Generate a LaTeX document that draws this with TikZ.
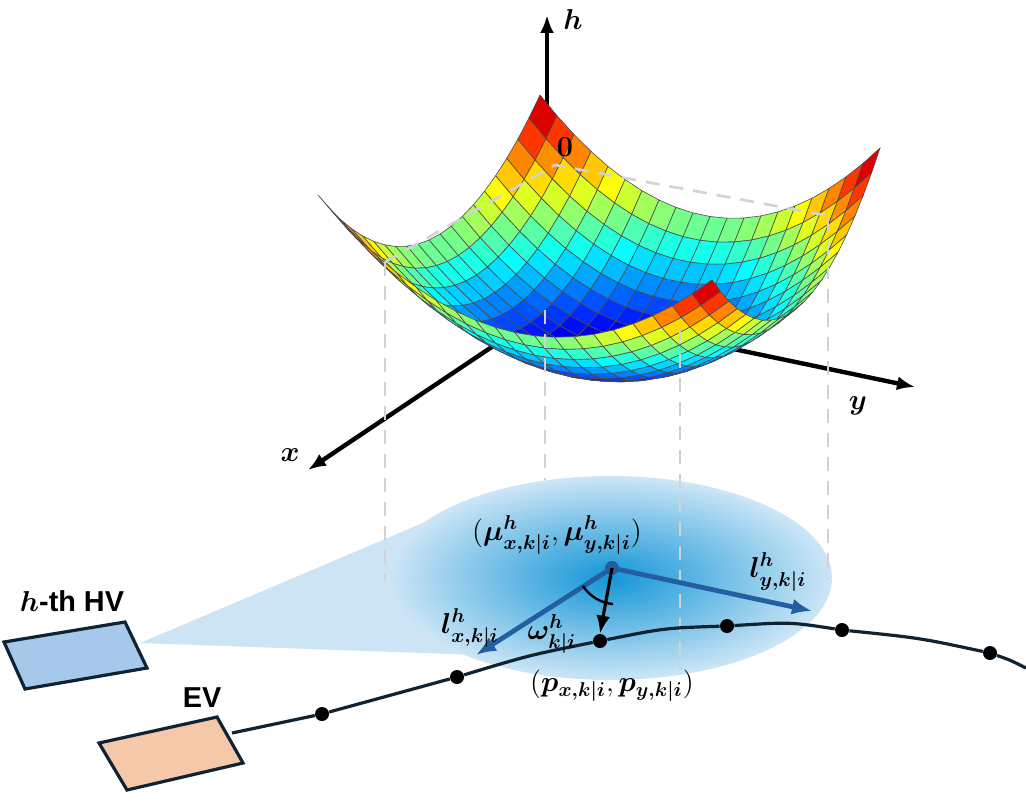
\documentclass[tikz,border=0pt]{standalone}
\usepackage{fontspec}
\setsansfont{Liberation Sans}
\usepackage{amsmath,bm}
\definecolor{funnelc}{RGB}{205,228,245}
\begin{document}
\begin{tikzpicture}[x=0.5pt,y=-0.5pt,
  axis/.style={line width=2.2pt,-{Latex[length=9pt,width=7pt]}},
  gdash/.style={gray!35,line width=1.3pt,dash pattern=on 7pt off 5pt},
  car/.style={line width=1.6pt,draw={rgb,255:red,15;green,35;blue,50}},
  dot/.style={circle,fill=black,inner sep=0pt,minimum size=7pt},
  vec/.style={line width=2.4pt,draw={rgb,255:red,35;green,95;blue,160},-{Latex[length=10pt,width=8pt]}},
  lab/.style={inner sep=1pt}]
\usetikzlibrary{arrows.meta}
\useasboundingbox (0,0) rectangle (1026,808);
% axes (behind surface)
\coordinate (O) at (547,310);
\coordinate (htip) at (547,15);
\coordinate (xtip) at (308,470);
\coordinate (ytip) at (915,387);
\draw[axis] (O) -- (htip);
\draw[axis] (O) -- (xtip);
\draw[axis] (O) -- (ytip);
\node[lab,font=\Large] (hl) at (573,20) {$\bm{h}$};
\node[lab,font=\Large] (xl) at (290,455) {$\bm{x}$};
\node[lab,font=\Large] (yl) at (858,406) {$\bm{y}$};
% surface
\newcommand{\SP}[3]{%
  \pgfmathsetmacro\aa{(#1+1)/2}\pgfmathsetmacro\bb{(#2+1)/2}%
  \pgfmathsetmacro\dd{190*(1-((#1)*(#1)+(#2)*(#2))/2)}%
  \pgfmathsetmacro\px{(1-\aa)*(1-\bb)*540+\aa*(1-\bb)*318+(1-\aa)*\bb*880+\aa*\bb*712}%
  \pgfmathsetmacro\py{(1-\aa)*(1-\bb)*95+\aa*(1-\bb)*195+(1-\aa)*\bb*148+\aa*\bb*280+\dd}%
  \coordinate (#3) at (\px,\py);}
\foreach \s in {0,...,38}{
  \pgfmathtruncatemacro\imin{max(0,\s-19)}
  \pgfmathtruncatemacro\imax{min(19,\s)}
  \foreach \i in {\imin,...,\imax}{
    \pgfmathtruncatemacro\j{\s-\i}
    \pgfmathsetmacro\ua{-1+\i/10}\pgfmathsetmacro\ub{-1+(\i+1)/10}
    \pgfmathsetmacro\va{-1+\j/10}\pgfmathsetmacro\vb{-1+(\j+1)/10}
    \SP{\ua}{\va}{q1}\SP{\ub}{\va}{q2}\SP{\ub}{\vb}{q3}\SP{\ua}{\vb}{q4}
    \pgfmathsetmacro\uc{(\ua+\ub)/2}\pgfmathsetmacro\vc{(\va+\vb)/2}
    \pgfmathsetmacro\t{0.05+0.95*(\uc*\uc+\vc*\vc)/2}
    \pgfmathsetmacro\rr{max(0,min(1,1.5-abs(4*\t-3)))}
    \pgfmathsetmacro\gg{max(0,min(1,1.5-abs(4*\t-2)))}
    \pgfmathsetmacro\bl{max(0,min(1,1.5-abs(4*\t-1)))}
    \definecolor{cc}{rgb}{\rr,\gg,\bl}
    \filldraw[fill=cc,draw=black!70,line width=0.3pt] (q1)--(q2)--(q3)--(q4)--cycle;
  }}
\node[lab,font=\Large] (zero) at (565,147) {$\bm{0}$};
% funnel and ellipse
\fill[funnelc] (140,643) -- (470,503) -- (480,655) -- cycle;
\shade[inner color={rgb,255:red,20;green,150;blue,215},outer color={rgb,255:red,205;green,230;blue,246}]
  (610,578) ellipse [x radius=222,y radius=102];
% dashed projection lines
\draw[gdash] (385,262) -- (555,165) -- (835,217);
\draw[gdash] (385,262) -- (385,580);
\draw[gdash] (545,310) -- (545,480);
\draw[gdash] (680,330) -- (680,670);
\draw[gdash] (828,217) -- (828,580);
% vehicles
\draw[car,fill={rgb,255:red,165;green,200;blue,235}] (4,642) -- (125,622) -- (147,668) -- (25,689) -- cycle;
\draw[car,fill={rgb,255:red,245;green,200;blue,170}] (99,743) -- (217,717) -- (243,763) -- (127,790) -- cycle;
\node[lab,font=\sffamily\bfseries\Large] (hv) at (72,601) {$\bm{h}$-th HV};
\node[lab,font=\sffamily\bfseries\Large] (ev) at (202,698) {EV};
% trajectory
\coordinate (t0) at (232,733);
\node[dot] (d1) at (322,714) {};
\node[dot] (d2) at (457,677) {};
\node[dot] (d3) at (600,641) {};
\node[dot] (d4) at (727,626) {};
\node[dot] (d5) at (842,630) {};
\node[dot] (d6) at (990,653) {};
\coordinate (tend) at (1026,668);
\draw[line width=1.6pt,draw={rgb,255:red,15;green,35;blue,50}] (t0) .. controls (270,725) .. (d1)
  .. controls (390,695) .. (d2) .. controls (530,655) .. (d3) .. controls (665,628) .. (d4)
  .. controls (790,622) .. (d5) .. controls (920,638) .. (d6) .. controls (1010,660) .. (tend);
% vectors
\node[circle,fill={rgb,255:red,35;green,95;blue,160},inner sep=0pt,minimum size=7pt] (mu) at (612,568) {};
\coordinate (lx) at (476,655);
\coordinate (ly) at (812,611);
\draw[vec] (mu.center) -- (lx);
\draw[vec] (mu.center) -- (ly);
\draw[line width=1.6pt,-{Latex[length=9pt,width=7pt]}] (mu.center) -- (d3.north);
\draw[line width=1.2pt] (583,586) arc[start angle=213,end angle=265,radius=20pt];
\node[lab,font=\Large] (mul) at (557,535) {$(\bm{\mu^h_{x,k|i}},\bm{\mu^h_{y,k|i}})$};
\node[lab,font=\Large] (pl) at (612,686) {$(\bm{p_{x,k|i}},\bm{p_{y,k|i}})$};
\node[lab,font=\Large] (lxl) at (470,628) {$\bm{l^h_{x,k|i}}$};
\node[lab,font=\Large] (lyl) at (778,572) {$\bm{l^h_{y,k|i}}$};
\node[lab,font=\Large] (wl) at (552,634) {$\bm{\omega^h_{k|i}}$};
\end{tikzpicture}
\end{document}
